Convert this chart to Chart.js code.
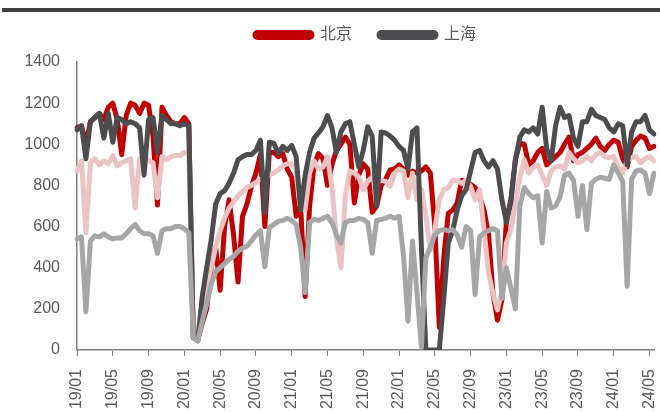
<!DOCTYPE html>
<html>
<head>
<meta charset="utf-8">
<script src="https://cdn.jsdelivr.net/npm/chart.js@4.4.1/dist/chart.umd.min.js"></script>
<style>
  html, body { margin: 0; padding: 0; background: #fff; }
</style>
</head>
<body>
<canvas id="chart" width="660" height="412"></canvas>
<script>
// half-month points, two per month
const months = [
  '19/01','19/02','19/03','19/04','19/05','19/06','19/07','19/08','19/09','19/10','19/11','19/12',
  '20/01','20/02','20/03','20/04','20/05','20/06','20/07','20/08','20/09','20/10','20/11','20/12',
  '21/01','21/02','21/03','21/04','21/05','21/06','21/07','21/08','21/09','21/10','21/11','21/12',
  '22/01','22/02','22/03','22/04','22/05','22/06','22/07','22/08','22/09','22/10','22/11','22/12',
  '23/01','23/02','23/03','23/04','23/05','23/06','23/07','23/08','23/09','23/10','23/11','23/12',
  '24/01','24/02','24/03','24/04','24/05'
];
const labels = months.flatMap(m => [m, m]);

const beijing = [
  1080, 1090, 1000, 1110, 1130, 1150, 1120, 1180, 1200, 1120, 950, 1140, 1200, 1190, 1150, 1200, 1190, 1040, 705, 1180, 1140, 1110, 1100, 1100,
  1130, 1100, 60, 50, 130, 200, 400, 500, 290, 600, 730, 560, 330, 650, 710, 795, 860, 950, 600, 960, 960, 940, 955, 880,
  840, 650, 700, 260, 700, 900, 955, 930, 800, 900, 970, 1000, 1035, 1000, 715, 850, 905, 880, 670, 700, 800, 830, 875, 880,
  900, 880, 850, 870, 860, 870, 890, 860, 600, 110, 450, 665, 680, 715, 825, 815, 805, 790, 745, 680, 565, 275, 145, 245,
  630, 730, 925, 1005, 1000, 900, 920, 960, 980, 900, 920, 940, 960, 1000, 1035, 920, 950, 960, 980, 1000, 1030, 990, 970, 1000,
  1020, 1010, 930, 890, 990, 1020, 1040, 1030, 980, 990
];
const shanghai = [
  1070, 1090, 930, 1110, 1130, 1150, 1030, 1150, 1010, 1130, 1120, 1100, 1110, 1100, 1080, 850, 1120, 1130, 960, 1140, 1120, 1100, 1100, 1090,
  1100, 1090, 60, 45, 260, 400, 535, 710, 760, 775, 810, 860, 925, 940, 950, 950, 970, 1020, 670, 1010, 1005, 955, 990, 970,
  995, 940, 680, 850, 960, 1030, 1055, 1085, 1140, 1080, 960, 1060, 1100, 1110, 1000, 890, 970, 1085, 1040, 700, 1060, 1055, 1040, 1020,
  990, 970, 880, 1060, 1080, 500, 0, 0, 0, 0, 250, 520, 580, 680, 750, 780, 870, 960, 970, 920, 890, 920, 880, 730,
  620, 720, 920, 1035, 1070, 1060, 1080, 1050, 1180, 980, 920, 1090, 1180, 1130, 1140, 1030, 990, 1110, 1110, 1170, 1140, 1130, 1120, 1080,
  1060, 1100, 1090, 900, 1060, 1110, 1110, 1140, 1070, 1050
];
const pinkSeries = [
  870, 920, 570, 910, 930, 900, 920, 905, 945, 895, 910, 920, 930, 690, 930, 940, 920, 910, 740, 940, 925, 940, 945, 945,
  960, 950, 60, 50, 200, 320, 400, 500, 580, 640, 690, 720, 750, 770, 790, 800, 815, 830, 835, 850, 860, 875, 895, 905,
  905, 880, 700, 680, 860, 920, 880, 890, 940, 790, 540, 400, 750, 870, 860, 840, 780, 820, 840, 810, 825, 820, 795, 860,
  880, 870, 740, 860, 730, 780, 650, 485, 585, 730, 780, 790, 825, 825, 810, 825, 795, 730, 780, 585, 375, 275, 195, 290,
  520, 585, 710, 840, 925, 860, 890, 900, 850, 800, 870, 890, 895, 880, 960, 930, 910, 920, 940, 920, 950, 960, 940, 935,
  940, 890, 860, 920, 935, 940, 910, 930, 940, 920
];
const greySeries = [
  540, 550, 185, 530, 555, 550, 565, 550, 540, 545, 545, 565, 590, 610, 580, 565, 565, 555, 470, 580, 590, 590, 600, 600,
  590, 570, 60, 45, 140, 225, 320, 380, 400, 420, 440, 455, 480, 495, 505, 530, 560, 580, 405, 595, 610, 625, 630, 640,
  630, 610, 500, 280, 620, 635, 630, 640, 650, 620, 560, 520, 620, 630, 630, 640, 635, 620, 470, 630, 635, 640, 650, 640,
  650, 460, 140, 530, 280, 15, 450, 500, 560, 580, 585, 580, 585, 560, 500, 600, 580, 270, 550, 570, 580, 590, 580, 250,
  400, 300, 200, 700, 790, 760, 740, 750, 520, 770, 690, 700, 745, 850, 860, 825, 650, 800, 585, 810, 830, 840, 835, 830,
  900, 860, 820, 310, 830, 870, 875, 860, 760, 860
];
const yMin = 0;
const yMax = 1400;
const yStep = 200;
const shownMonths = ['01', '05', '09'];

Chart.defaults.font.family = '"Liberation Sans", "Noto Sans CJK SC", sans-serif';
Chart.defaults.color = '#595959';

const topBar = {
    id: 'topBar',
    beforeDraw(chart) {
        const ctx = chart.ctx;
        ctx.save();
        ctx.fillStyle = '#404040';
        ctx.fillRect(2, 8, 658, 4);
        ctx.restore();
    }
};

// extra room under the legend
const legendMargin = {
    id: 'legendMargin',
    beforeInit(chart) {
        const fit = chart.legend.fit;
        chart.legend.fit = function() {
            fit.bind(chart.legend)();
            this.height += 9;
        };
    }
};

function lineSet(label, data, color, order) {
    return {
        label: label,
        data: data,
        borderColor: color,
        backgroundColor: color,
        borderWidth: 5,
        pointRadius: 0,
        tension: 0,
        borderJoinStyle: 'round',
        borderCapStyle: 'round',
        order: order
    };
}

new Chart(document.getElementById('chart'), {
    type: 'line',
    data: {
        labels: labels,
        datasets: [
            lineSet('北京', beijing, '#C00000', 3),
            lineSet('上海', shanghai, '#4D4D4F', 1),
            lineSet('北京(均值)', pinkSeries, '#ECC3C3', 2),
            lineSet('上海(均值)', greySeries, '#A6A6A6', 0)
        ]
    },
    options: {
        responsive: false,
        animation: false,
        layout: { padding: { left: 20, right: 6, top: 0, bottom: 2 } },
        plugins: {
            legend: {
                position: 'top',
                fullSize: false,
                labels: {
                    filter: item => item.datasetIndex < 2,
                    sort: (a, b) => a.datasetIndex - b.datasetIndex,
                    boxWidth: 57,
                    boxHeight: 5,
                    useBorderRadius: true,
                    borderRadius: 2.5,
                    padding: 27,
                    color: '#595959',
                    font: { size: 16 }
                }
            },
            tooltip: { enabled: false }
        },
        scales: {
            x: {
                afterFit: scale => {
                    scale.paddingLeft = 0;
                    scale.paddingRight = 0;
                    scale.height = 60;
                },
                grid: {
                    drawOnChartArea: false,
                    drawTicks: true,
                    tickLength: 6,
                    tickColor: c => (c.tick && c.tick.label) ? '#808080' : 'rgba(0,0,0,0)'
                },
                border: { color: '#808080', width: 1.5 },
                ticks: {
                    autoSkip: false,
                    maxRotation: 90,
                    minRotation: 90,
                    padding: 13,
                    font: { size: 16 },
                    color: '#595959',
                    callback: function(value, index) {
                        const lab = labels[index];
                        if (index % 2 === 0 && shownMonths.includes(lab.slice(3))) return lab;
                        return '';
                    }
                }
            },
            y: {
                min: yMin,
                max: yMax,
                afterFit: scale => { scale.width = 57; },
                grid: { display: false, drawTicks: false },
                border: { color: '#808080', width: 1.5 },
                ticks: {
                    stepSize: yStep,
                    padding: 17,
                    font: { size: 16 },
                    color: '#595959',
                    callback: v => String(v)
                }
            }
        }
    },
    plugins: [topBar, legendMargin]
});
</script>
</body>
</html>
